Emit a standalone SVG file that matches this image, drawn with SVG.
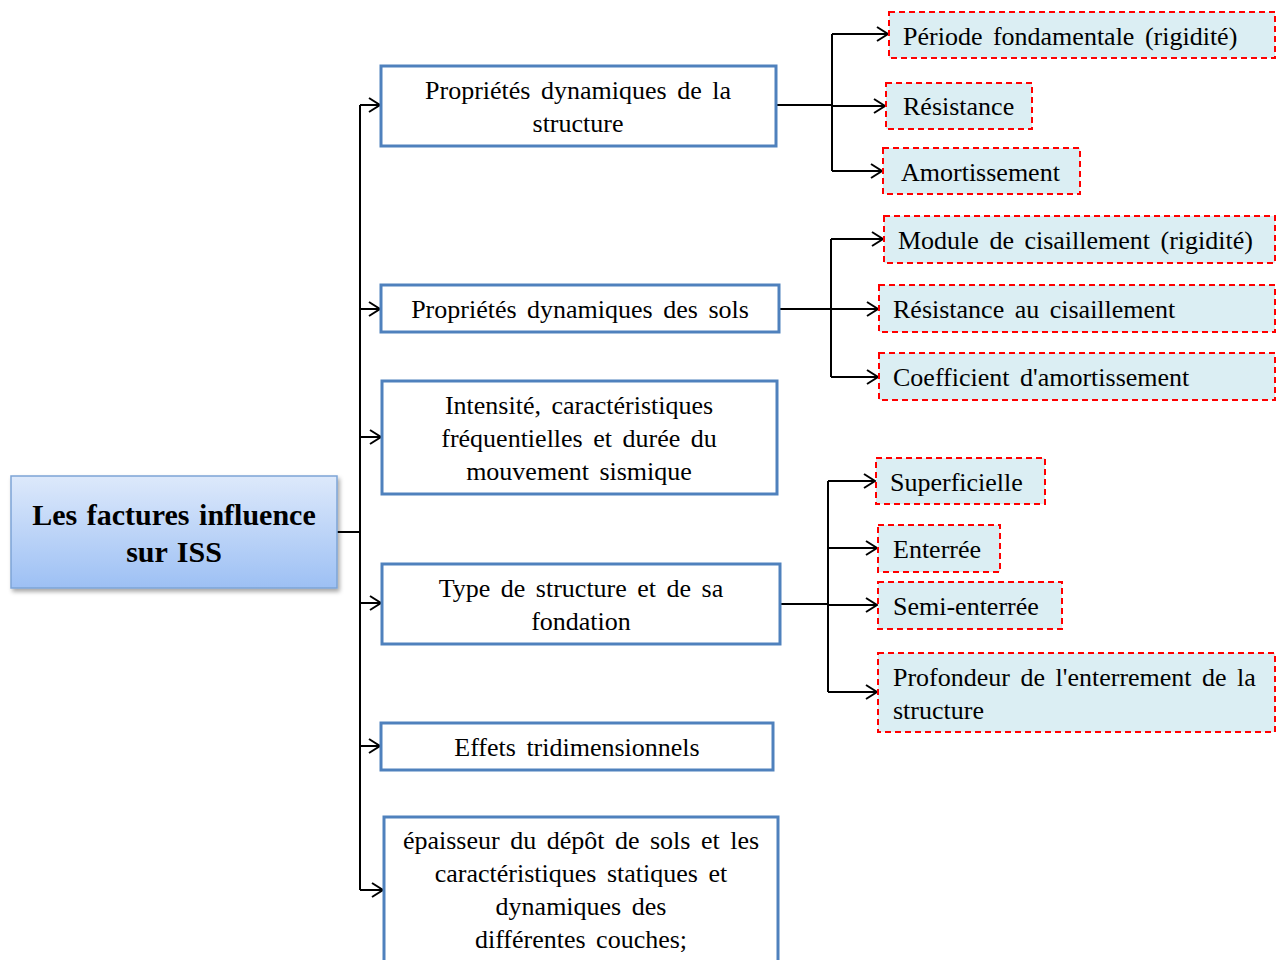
<svg xmlns="http://www.w3.org/2000/svg" width="1279" height="960" viewBox="0 0 1279 960">
<defs>
<linearGradient id="rootGrad" x1="0" y1="0" x2="0" y2="1">
<stop offset="0" stop-color="#dde9fb"/>
<stop offset="1" stop-color="#9dc0f4"/>
</linearGradient>
<filter id="shadow" x="-10%" y="-10%" width="125%" height="130%">
<feDropShadow dx="2" dy="3" stdDeviation="2" flood-color="#000" flood-opacity="0.35"/>
</filter>
<marker id="arrow" markerWidth="14" markerHeight="16" refX="12" refY="8" orient="auto" markerUnits="userSpaceOnUse">
<path d="M1,1 L12,8 L1,15" fill="none" stroke="#000" stroke-width="2"/>
</marker>
</defs>
<style>
text{font-family:"Liberation Serif","Times New Roman",serif;font-size:26px;fill:#000;word-spacing:4px}
.mid{text-anchor:middle}
.blue{fill:#fff;stroke:#4f81bd;stroke-width:3}
.red{fill:#dbeef3;stroke:#ff0000;stroke-width:2;stroke-dasharray:6 4}
.root{fill:url(#rootGrad);stroke:#7da4d6;stroke-width:1.5}
.rootText{font-weight:bold;font-size:30px;word-spacing:2px}
.conn{fill:none;stroke:#000;stroke-width:2}
</style>
<rect width="1279" height="960" fill="#fff"/>
<g id="connectors">
<path class="conn" d="M337,532 H360 M360,105 V890"/>
<path class="conn" d="M360,105 H380" marker-end="url(#arrow)"/>
<path class="conn" d="M360,309 H380" marker-end="url(#arrow)"/>
<path class="conn" d="M360,437 H381" marker-end="url(#arrow)"/>
<path class="conn" d="M360,603 H381" marker-end="url(#arrow)"/>
<path class="conn" d="M360,746 H380" marker-end="url(#arrow)"/>
<path class="conn" d="M360,890 H383" marker-end="url(#arrow)"/>
<path class="conn" d="M776,105 H832 M832,34 V171"/>
<path class="conn" d="M832,34 H888" marker-end="url(#arrow)"/>
<path class="conn" d="M832,106 H885" marker-end="url(#arrow)"/>
<path class="conn" d="M832,171 H882" marker-end="url(#arrow)"/>
<path class="conn" d="M779,309 H831 M831,239 V377"/>
<path class="conn" d="M831,239 H883" marker-end="url(#arrow)"/>
<path class="conn" d="M831,309 H878" marker-end="url(#arrow)"/>
<path class="conn" d="M831,377 H878" marker-end="url(#arrow)"/>
<path class="conn" d="M780,604 H828 M828,481 V692"/>
<path class="conn" d="M828,481 H875" marker-end="url(#arrow)"/>
<path class="conn" d="M828,548 H877" marker-end="url(#arrow)"/>
<path class="conn" d="M828,605 H877" marker-end="url(#arrow)"/>
<path class="conn" d="M828,692 H877" marker-end="url(#arrow)"/>
</g>
<g id="root">
<rect class="root" x="11" y="476" width="326" height="112" filter="url(#shadow)"/>
<text class="mid rootText" x="174" y="525">Les factures influence</text>
<text class="mid rootText" x="174" y="562">sur ISS</text>
</g>
<g id="n1">
<rect class="blue" x="381" y="66" width="395" height="80"/>
<text class="mid" x="578" y="99">Propriétés dynamiques de la</text>
<text class="mid" x="578" y="132">structure</text>
</g>
<g id="n2">
<rect class="blue" x="381" y="285" width="398" height="47"/>
<text class="mid" x="580" y="318">Propriétés dynamiques des sols</text>
</g>
<g id="n3">
<rect class="blue" x="382" y="381" width="395" height="113"/>
<text class="mid" x="579" y="414">Intensité, caractéristiques</text>
<text class="mid" x="579" y="447">fréquentielles et durée du</text>
<text class="mid" x="579" y="480">mouvement sismique</text>
</g>
<g id="n4">
<rect class="blue" x="382" y="564" width="398" height="80"/>
<text class="mid" x="581" y="597">Type de structure et de sa</text>
<text class="mid" x="581" y="630">fondation</text>
</g>
<g id="n5">
<rect class="blue" x="381" y="723" width="392" height="47"/>
<text class="mid" x="577" y="756">Effets tridimensionnels</text>
</g>
<g id="n6">
<rect class="blue" x="384" y="817" width="394" height="160"/>
<text class="mid" x="581" y="849">épaisseur du dépôt de sols et les</text>
<text class="mid" x="581" y="882">caractéristiques statiques et</text>
<text class="mid" x="581" y="915">dynamiques des</text>
<text class="mid" x="581" y="948">différentes couches;</text>
</g>
<g id="r1a">
<rect class="red" x="889" y="12" width="386" height="46"/>
<text x="903" y="45">Période fondamentale (rigidité)</text>
</g>
<g id="r1b">
<rect class="red" x="886" y="83" width="146" height="46"/>
<text x="903" y="115">Résistance</text>
</g>
<g id="r1c">
<rect class="red" x="883" y="148" width="197" height="46"/>
<text x="901" y="181">Amortissement</text>
</g>
<g id="r2a">
<rect class="red" x="884" y="216" width="391" height="47"/>
<text x="898" y="249">Module de cisaillement (rigidité)</text>
</g>
<g id="r2b">
<rect class="red" x="879" y="285" width="396" height="47"/>
<text x="893" y="318">Résistance au cisaillement</text>
</g>
<g id="r2c">
<rect class="red" x="879" y="353" width="396" height="47"/>
<text x="893" y="386">Coefficient d'amortissement</text>
</g>
<g id="r3a">
<rect class="red" x="876" y="458" width="169" height="46"/>
<text x="890" y="491">Superficielle</text>
</g>
<g id="r3b">
<rect class="red" x="878" y="525" width="122" height="47"/>
<text x="893" y="558">Enterrée</text>
</g>
<g id="r3c">
<rect class="red" x="878" y="582" width="184" height="47"/>
<text x="893" y="615">Semi-enterrée</text>
</g>
<g id="r3d">
<rect class="red" x="878" y="653" width="397" height="79"/>
<text x="893" y="686">Profondeur de l'enterrement de la</text>
<text x="893" y="719">structure</text>
</g>
</svg>
